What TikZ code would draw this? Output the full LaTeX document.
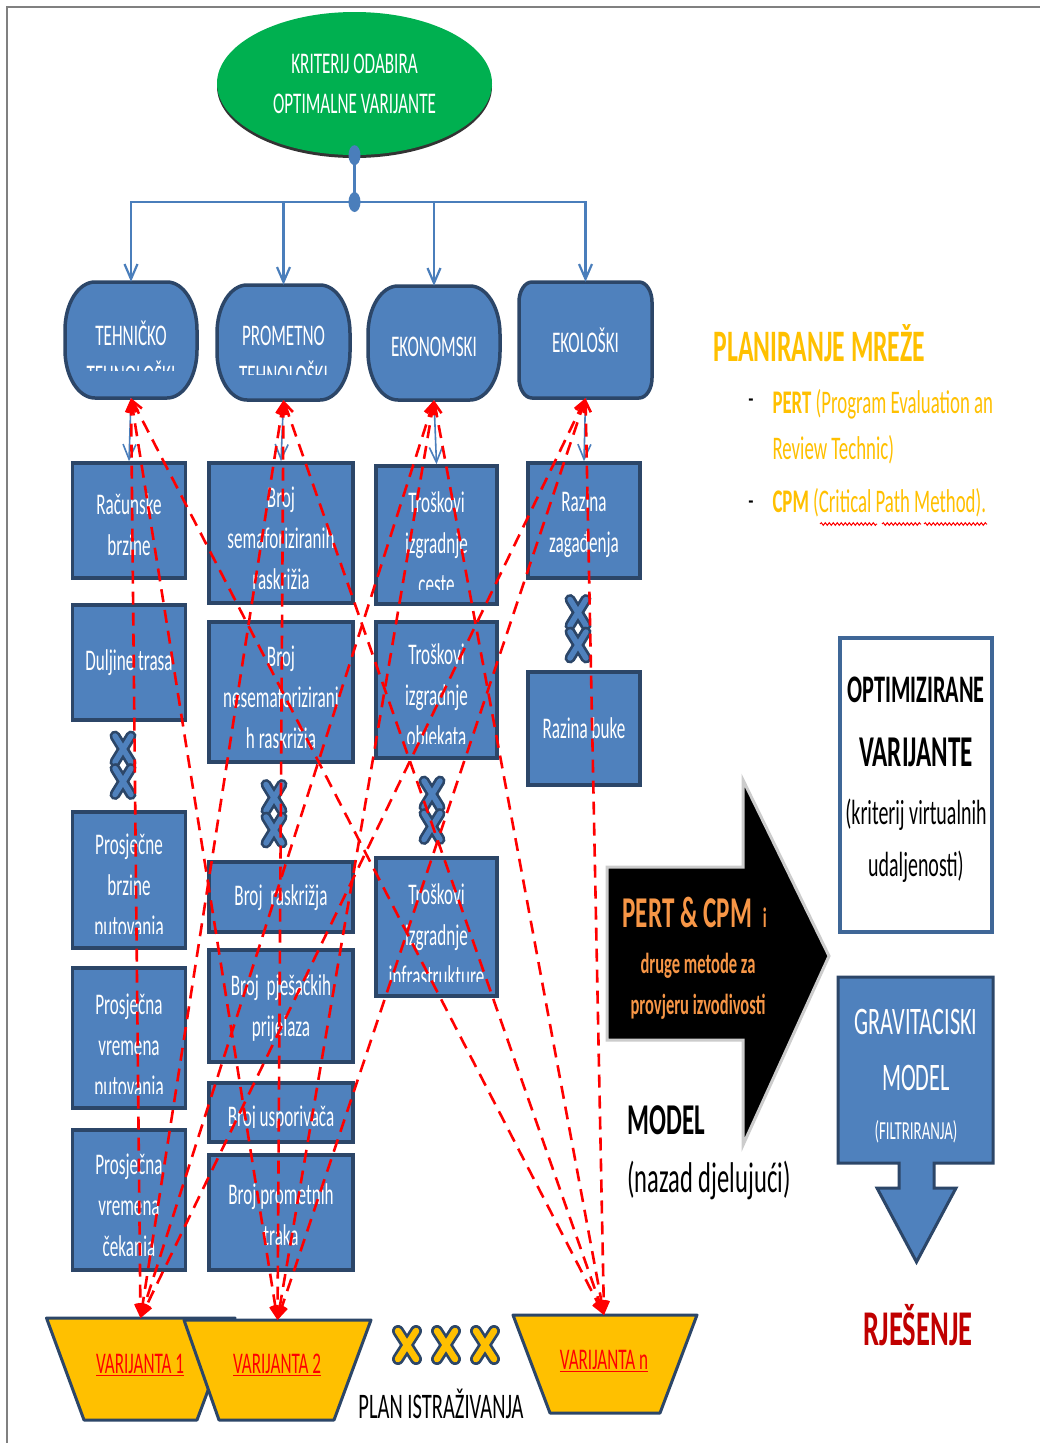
\documentclass[tikz,border=0pt]{standalone}
\usepackage{fontspec}
\setmainfont{Carlito}[FakeStretch=0.57]
\usetikzlibrary{shapes.geometric,arrows.meta,decorations.pathmorphing}
\definecolor{boxblue}{RGB}{79,129,189}
\definecolor{boxedge}{RGB}{44,70,104}
\definecolor{connblue}{RGB}{74,126,187}
\definecolor{critgreen}{RGB}{0,176,80}
\definecolor{gold}{RGB}{255,192,0}
\definecolor{linkred}{RGB}{255,0,0}
\definecolor{pertorange}{RGB}{247,150,70}
\definecolor{darkred}{RGB}{192,0,0}
\newcommand\setfs[2]{\fontsize{#1}{#2}\selectfont}
\pgfdeclarelayer{bg}\pgfsetlayers{bg,main}
% rounded box with elliptic corners: x1 y1 x2 y2 rx ry
\newcommand\catpath[6]{(#1+#5,#2) -- (#3-#5,#2) .. controls (#3-0.448*#5,#2) and (#3,#2+0.448*#6) .. (#3,#2+#6) -- (#3,#4-#6) .. controls (#3,#4-0.448*#6) and (#3-0.448*#5,#4) .. (#3-#5,#4) -- (#1+#5,#4) .. controls (#1+0.448*#5,#4) and (#1,#4-0.448*#6) .. (#1,#4-#6) -- (#1,#2+#6) .. controls (#1,#2+0.448*#6) and (#1+0.448*#5,#2) .. (#1+#5,#2) -- cycle}
% blue criterion box: name x y w h text-shift text
\newcommand\infobox[7]{%
  \node[box, minimum width=#4, minimum height=#5,
    path picture={\clip (path picture bounding box.north west) rectangle ([yshift=15pt]path picture bounding box.south east);
      \node[boxtext] at ([yshift=-#6pt]path picture bounding box.center) {#7};}] (#1) at (#2,#3) {};}
\tikzset{
  conn/.style={draw=connblue, line width=2.2pt},
  catshape/.style={fill=boxblue, draw=boxedge, line width=3.5pt},
  anchorbox/.style={rectangle, inner sep=0pt, draw=none},
  cattext/.style={text=white, font=\setfs{30}{40}, align=center},
  box/.style={rectangle, fill=boxblue, draw=boxedge, line width=3.5pt, inner sep=0pt},
  boxtext/.style={text=white, font=\setfs{30}{41}, align=center},
  colline/.style={draw=connblue, line width=1.2pt},
  bluehead/.style={-{Straight Barb[length=15pt,width=13pt]}},
  redlink/.style={draw=linkred, line width=2.6pt, dash pattern=on 13pt off 8pt,
    {Straight Barb[length=11pt,width=10pt]}-{Straight Barb[length=11pt,width=10pt]}},
  variant/.style={fill=gold, draw=boxedge, line width=3pt, line join=round},
  vartext/.style={text=linkred, font=\setfs{30}{36}},
  bluex/.pic={
    \draw[line width=11pt, line cap=round, boxedge] (-8,-13) -- (8,13) (-8,13) -- (8,-13);
    \draw[line width=5.5pt, line cap=round, boxblue] (-8,-13) -- (8,13) (-8,13) -- (8,-13);},
  goldx/.pic={
    \draw[line width=12pt, line cap=round, boxedge] (-9,-14) -- (9,14) (-9,14) -- (9,-14);
    \draw[line width=6.5pt, line cap=round, gold] (-9,-14) -- (9,14) (-9,14) -- (9,-14);},
}
\begin{document}
\begin{tikzpicture}[x=1pt,y=-1pt]
\useasboundingbox (0,0) rectangle (1040,1443);
\fill[white] (0,0) rectangle (1040,1443);
\draw[gray, line width=1.5pt] (7,1443) -- (7,7) -- (1040,7);

% ---- top criterion ----
\fill[black!80] (354.5,86.5) ellipse [x radius=137.5pt, y radius=71.5pt];
\node[ellipse, fill=critgreen, minimum width=275, minimum height=143, inner sep=0pt,
  text=white, font=\setfs{30}{40}, align=center] (crit) at (354.5,83.5)
  {KRITERIJ ODABIRA\\OPTIMALNE VARIJANTE};

% ---- categories ----
\draw[catshape] \catpath{65}{282}{197}{398}{30}{48};
\node[anchorbox, minimum width=132, minimum height=116] (teh) at (131,340) {};
\begin{scope}\clip (65,282) rectangle (197,370);
\node[cattext] (teh-t) at (131,353) {TEHNIČKO\\TEHNOLOŠKI};\end{scope}

\draw[catshape] \catpath{217}{285}{350}{400}{30}{48};
\node[anchorbox, minimum width=133, minimum height=115] (pro) at (283.5,342.5) {};
\begin{scope}\clip (217,285) rectangle (350,374);
\node[cattext] (pro-t) at (283.5,356) {PROMETNO\\TEHNOLOŠKI};\end{scope}

\draw[catshape] \catpath{368}{286}{500}{400}{30}{48};
\node[anchorbox, minimum width=132, minimum height=114] (eko) at (434,343) {};
\node[cattext] (eko-t) at (434,347) {EKONOMSKI};

\draw[catshape] \catpath{519}{282}{652}{398}{13}{20};
\node[anchorbox, minimum width=133, minimum height=116] (ekl) at (585.5,340) {};
\node[cattext] (ekl-t) at (585.5,340) {EKOLOŠKI};

% ---- tree connector ----
\coordinate (jn) at (354.5,202);
\draw[conn] (crit.south) -- (jn);
\foreach \c in {teh,pro,eko,ekl}{\draw[conn, bluehead] (jn) -| (\c.north);}
\fill[connblue] (crit.south) ellipse [x radius=6pt, y radius=10pt];
\fill[connblue] (jn) ellipse [x radius=6pt, y radius=10pt];

% ---- criterion boxes ----
\infobox{rac}{129}{520.5}{113}{115}{4}{Računske\\brzine}
\infobox{dul}{129}{662.5}{113}{115}{0}{Duljine trasa}
\infobox{pbr}{129}{880}{113}{136}{8}{Prosječne\\brzine\\putovanja}
\infobox{pvp}{129}{1038}{113}{140}{10}{Prosječna\\vremena\\putovanja}
\infobox{pvc}{129}{1200}{113}{140}{8}{Prosječna\\vremena\\čekanja}

\infobox{bsr}{281}{533}{144}{140}{8}{Broj\\semaforiziranih\\raskrižja}
\infobox{bnr}{281}{692}{144}{140}{8}{Broj\\nesemaforizirani\\h raskrižja}
\infobox{brk}{281}{897}{144}{70}{1}{Broj~~raskrižja}
\infobox{bpp}{281}{1006}{144}{112}{2}{Broj~~pješačkih\\prijelaza}
\infobox{bus}{281}{1112.5}{144}{59}{6}{Broj usporivača}
\infobox{bpt}{281}{1212.5}{144}{115}{2}{Broj prometnih\\traka}

\infobox{tic}{436.5}{535}{121}{138}{8}{Troškovi\\izgradnje\\ceste}
\infobox{tio}{436.5}{690}{121}{136}{8}{Troškovi\\izgradnje\\objekata}
\infobox{tii}{436.5}{927}{121}{138}{8}{Troškovi\\izgradnje\\infrastrukture}

\infobox{rzg}{584}{520.5}{112}{115}{4}{Razina\\zagađenja}
\infobox{rbk}{584}{728.5}{112}{113}{0}{Razina buke}

\begin{pgfonlayer}{bg}
\draw[colline] (rac.center) -- (dul.center);
\draw[colline] (pbr.center) -- (pvc.center);
\draw[colline] (bsr.center) -- (bnr.center);
\draw[colline] (brk.center) -- (bpt.center);
\draw[colline] (tic.center) -- (tio.center);
\end{pgfonlayer}

\draw[conn, line width=1.6pt, bluehead] (teh.south) -- (rac.north);
\draw[conn, line width=1.6pt, bluehead] (pro.south) -- (bsr.north);
\draw[conn, line width=1.6pt, bluehead] (eko.south) -- (tic.north);
\draw[conn, line width=1.6pt, bluehead] (ekl.south) -- (rzg.north);

% ---- omitted items ----
\pic at (123,749) {bluex}; \pic at (123,781.5) {bluex};
\pic at (274,797.5) {bluex};   \pic at (274,830) {bluex};
\pic at (432,794) {bluex}; \pic at (432,826.5) {bluex};
\pic at (578,612.5) {bluex};   \pic at (578,645) {bluex};

% ---- variants ----
\draw[variant] (46.5,1318) -- (235,1318) -- (197,1420) -- (84,1420) -- cycle;
\draw[variant] (184,1320) -- (371,1320) -- (334,1420) -- (219,1420) -- cycle;
\draw[variant] (513,1315) -- (697,1315) -- (660,1413) -- (550,1413) -- cycle;
\node[vartext] (var1) at (140,1365) {\underline{VARIJANTA 1}};
\node[vartext] (var2) at (277,1365) {\underline{VARIJANTA 2}};
\node[vartext] (varn) at (604,1361) {\underline{VARIJANTA n}};
\coordinate (v1) at (140.5,1318);
\coordinate (v2) at (277.5,1320);
\coordinate (vn) at (604,1315);
\pic at (407,1345) {goldx}; \pic at (446,1345) {goldx}; \pic at (485,1345) {goldx};
\node[font=\setfs{36}{40}] (plan) at (441,1404) {PLAN ISTRAŽIVANJA};

% ---- links between criteria and variants ----
\foreach \c in {teh,pro,eko,ekl}{\foreach \v in {v1,v2,vn}{\draw[redlink] (\c.south) -- (\v);}}

% ---- network planning notes ----
\node[anchor=west, text=gold, font=\bfseries\setfs{45}{50}] (plm) at (710,343) {PLANIRANJE MREŽE};
\node[font=\setfs{30}{36}] (d1) at (751,404) {-};
\node[font=\setfs{30}{36}] (d2) at (751,506) {-};
\node[anchor=west, text=gold, font=\setfs{33}{40}] (pert1) at (769,404) {\textbf{PERT} (Program Evaluation an};
\node[anchor=west, text=gold, font=\setfs{33}{40}] (pert2) at (769,450) {Review Technic)};
\node[anchor=west, text=gold, font=\setfs{33}{40}] (cpm) at (769,503) {\textbf{CPM} (Critical Path Method).};
\draw[linkred, line width=1pt, decorate, decoration={snake, amplitude=1.3pt, segment length=4pt}] (820,524) -- (877,524);
\draw[linkred, line width=1pt, decorate, decoration={snake, amplitude=1.3pt, segment length=4pt}] (882,524) -- (921,524);
\draw[linkred, line width=1pt, decorate, decoration={snake, amplitude=1.3pt, segment length=4pt}] (924,524) -- (987,524);

% ---- method arrow ----
\filldraw[fill=black, draw=gray!40, line width=3pt, line join=miter]
  (607,867) -- (743,867) -- (743,780) -- (829,956) -- (743,1145) -- (743,1040) -- (607,1040) -- cycle;
\node[anchor=west, text=pertorange, font=\bfseries\setfs{44}{48}] (pc) at (619,912) {PERT \& CPM\hspace{11pt}{\setfs{28}{30}i}};
\node[text=pertorange, font=\bfseries\setfs{29}{41}, align=center] (pm) at (698,986) {druge metode za\\provjeru izvodivosti};
\node[anchor=west, font=\bfseries\setfs{44}{50}] (mdl) at (624,1120) {MODEL};
\node[anchor=west, font=\setfs{43}{50}] (nzd) at (624,1180) {(nazad djelujući)};

% ---- results ----
\node[rectangle, draw=boxblue!80!black, fill=white, line width=3.5pt, minimum width=152, minimum height=294] (opt) at (916,785) {};
\node[font=\bfseries\setfs{39}{44}] (opt1) at (916,690) {OPTIMIZIRANE};
\node[font=\bfseries\setfs{44}{48}] (opt2) at (916,752) {VARIJANTE};
\node[font=\setfs{35}{52}, align=center] (opt3) at (916,841) {(kriterij virtualnih\\udaljenosti)};

\draw[fill=boxblue, draw=boxedge, line width=3pt, line join=miter]
  (838,977) -- (993,977) -- (993,1163) -- (934,1163) -- (934,1188) -- (956,1188) -- (916.5,1262)
  -- (877,1188) -- (899,1188) -- (899,1163) -- (838,1163) -- cycle;
\node[anchorbox, minimum width=155, minimum height=186] (grav) at (915.5,1070) {};
\node[text=white, font=\setfs{39}{56}, align=center] (grav-t) at (916,1050) {GRAVITACISKI\\MODEL};
\node[text=white, font=\setfs{26}{30}] (filt) at (916,1132) {(FILTRIRANJA)};
\node[text=darkred, font=\bfseries\setfs{50}{56}] (rje) at (918,1325) {RJEŠENJE};
\end{tikzpicture}
\end{document}
